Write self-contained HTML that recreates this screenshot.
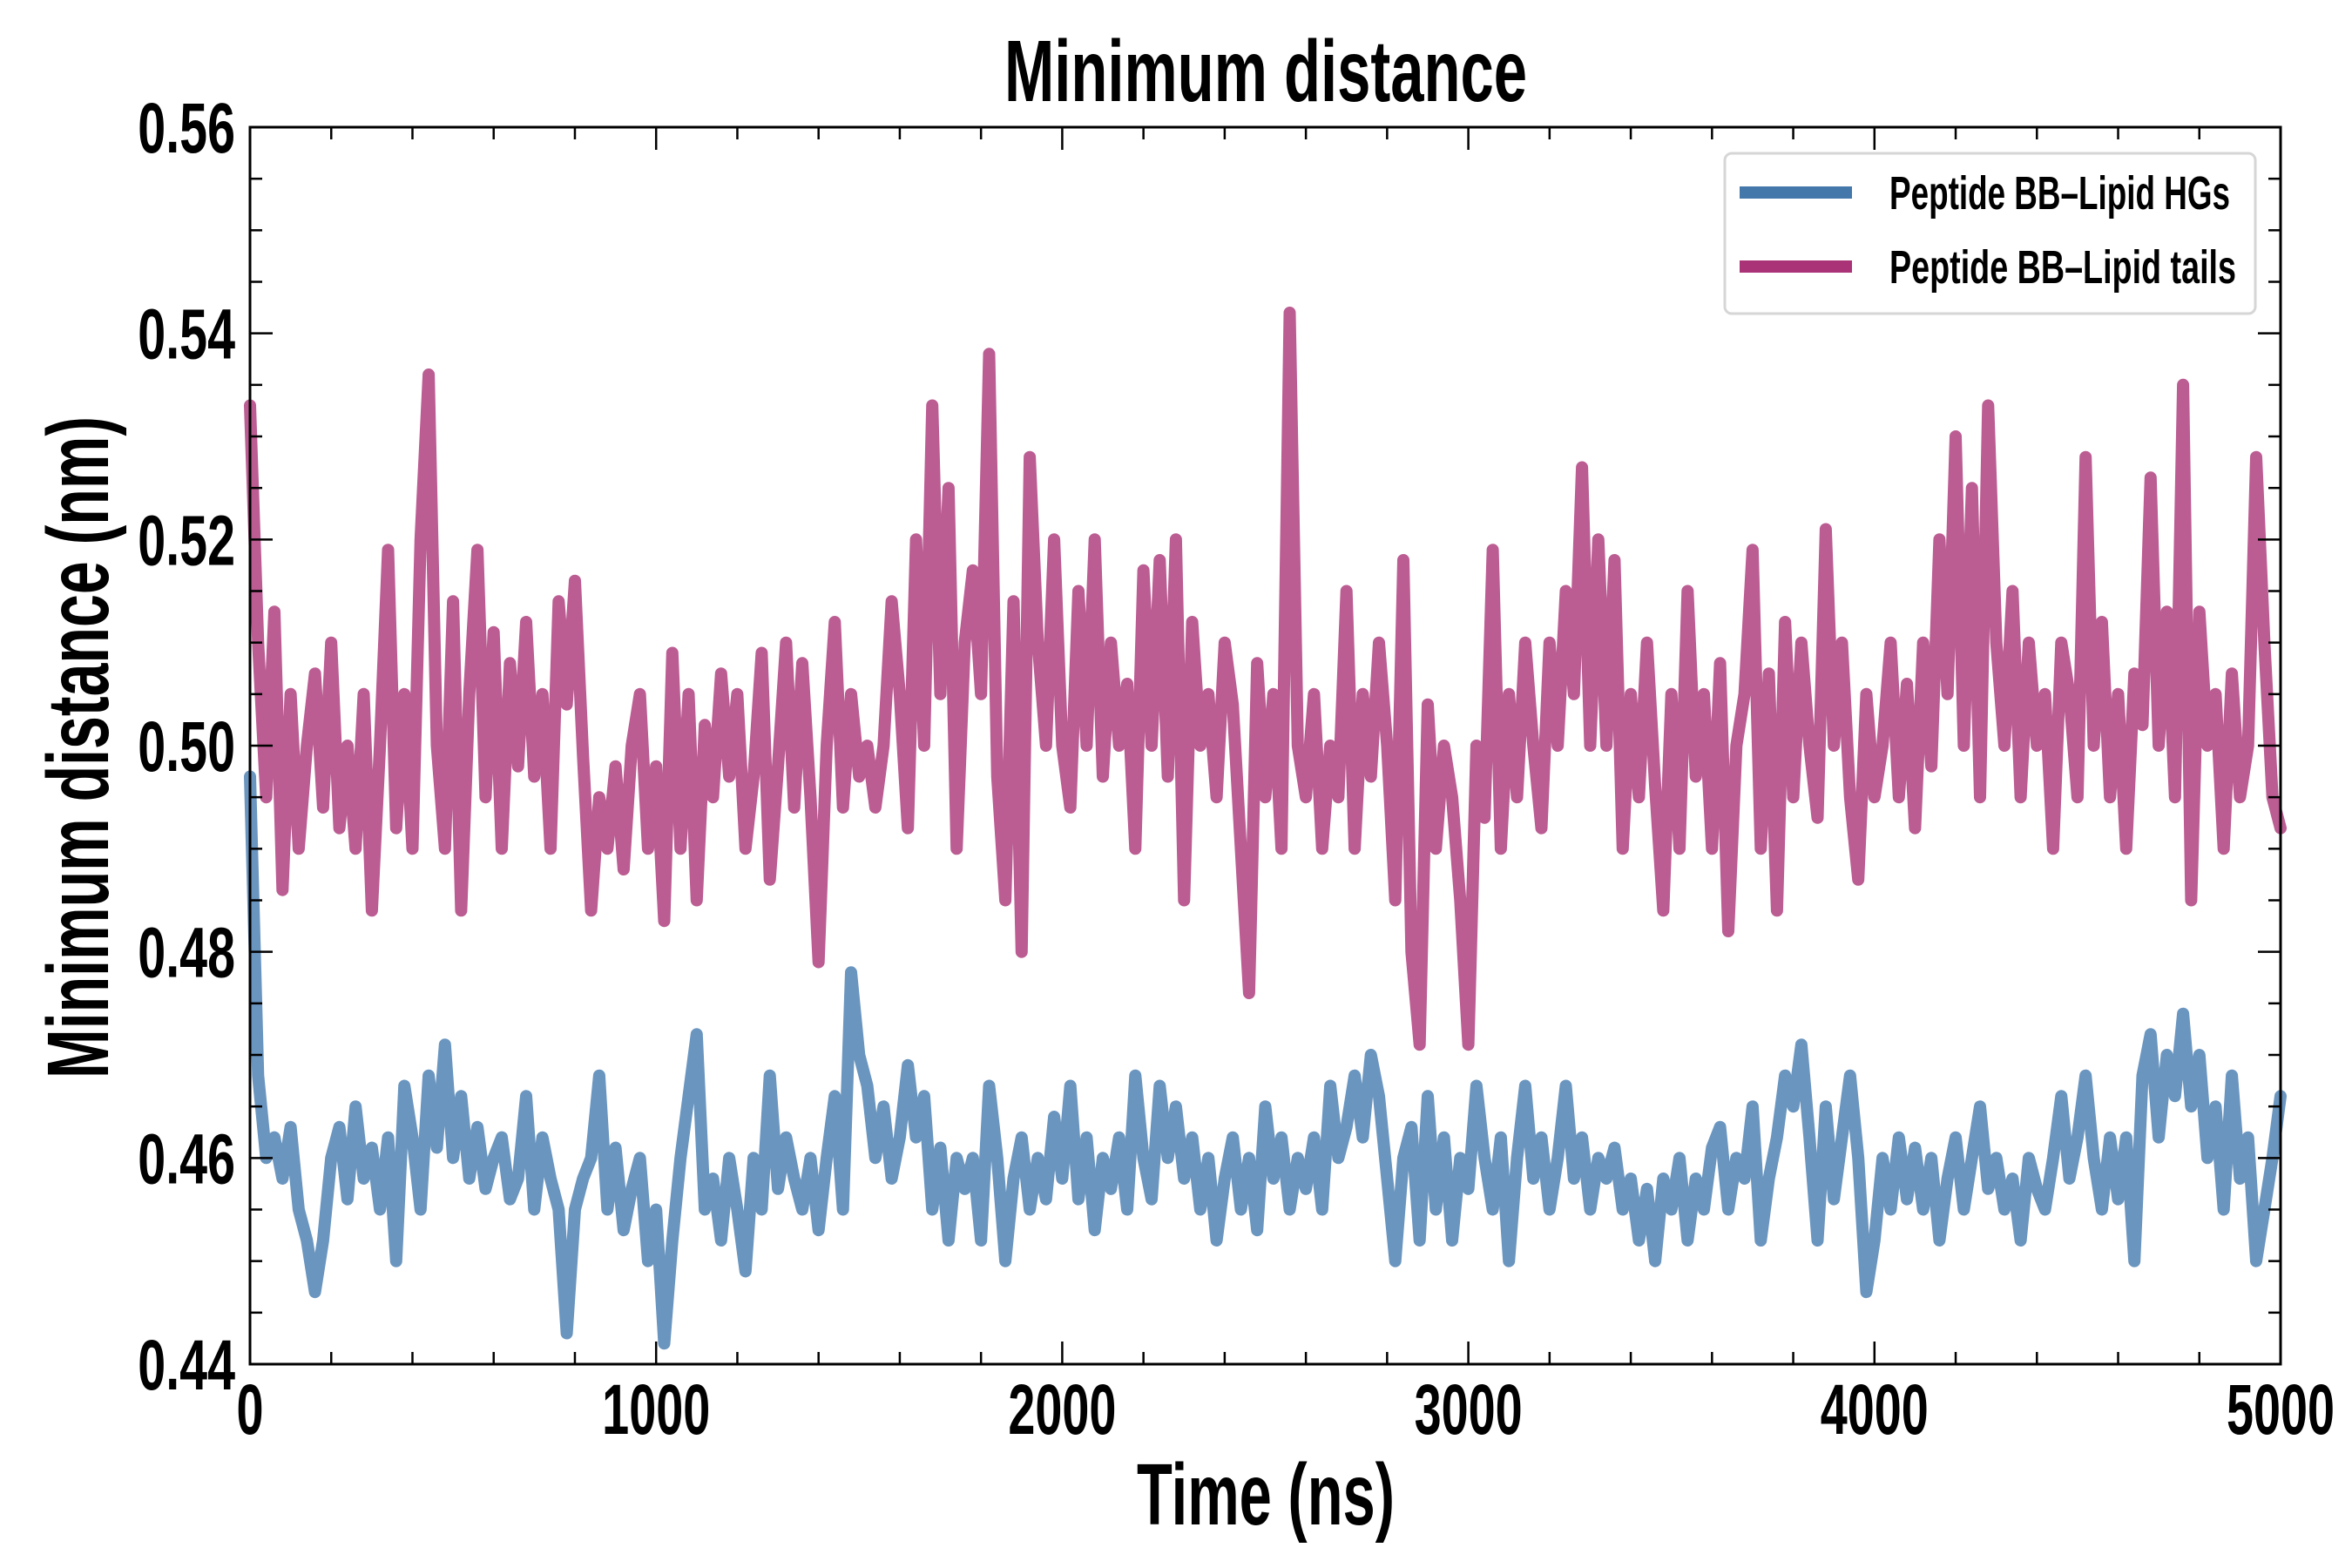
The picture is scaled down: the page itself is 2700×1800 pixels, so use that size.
<!DOCTYPE html>
<html><head><meta charset="utf-8"><style>
html,body{margin:0;padding:0;background:#fff;}
svg{display:block;}
text{font-family:"Liberation Sans Narrow","Liberation Sans",sans-serif;font-weight:bold;fill:#000;}
</style></head><body>
<svg id="chart" width="2700" height="1800" viewBox="0 0 2700 1800">
<text x="1453" y="116" font-size="100" text-anchor="middle" textLength="600" lengthAdjust="spacingAndGlyphs">Minimum distance</text>
<text x="1453" y="1750" font-size="100" text-anchor="middle" textLength="296" lengthAdjust="spacingAndGlyphs">Time (ns)</text>
<text transform="translate(124,858) rotate(-90)" font-size="100" text-anchor="middle" textLength="760" lengthAdjust="spacingAndGlyphs">Minimum distance (nm)</text>
<g id="series"></g>
<g id="axes"></g>
<g>
<rect x="1980" y="176" width="609" height="184" rx="8" fill="#fff" stroke="#d6d6d6" stroke-width="3"/>
<line x1="1997" y1="221" x2="2126" y2="221" stroke="#4477aa" stroke-width="14"/>
<text x="2169" y="240" font-size="54" textLength="391" lengthAdjust="spacingAndGlyphs">Peptide BB–Lipid HGs</text>
<line x1="1997" y1="306" x2="2126" y2="306" stroke="#aa3377" stroke-width="14"/>
<text x="2169" y="325" font-size="54" textLength="398" lengthAdjust="spacingAndGlyphs">Peptide BB–Lipid tails</text>
</g>
</svg>
<script>
const xTicks = [0,1000,2000,3000,4000,5000];
const yTicks = [0.44,0.46,0.48,0.50,0.52,0.54,0.56];
const yTickLabels = ["0.44","0.46","0.48","0.50","0.52","0.54","0.56"];
const tailsValues = [0.533,0.51,0.495,0.513,0.486,0.505,0.49,0.5,0.507,0.494,0.51,0.492,0.5,0.49,0.505,0.484,0.5,0.519,0.492,0.505,0.49,0.52,0.536,0.5,0.49,0.514,0.484,0.505,0.519,0.495,0.511,0.49,0.508,0.498,0.512,0.497,0.505,0.49,0.514,0.504,0.516,0.499,0.484,0.495,0.49,0.498,0.488,0.5,0.505,0.49,0.498,0.483,0.509,0.49,0.505,0.485,0.502,0.495,0.507,0.497,0.505,0.49,0.497,0.509,0.487,0.498,0.51,0.494,0.508,0.495,0.479,0.5,0.512,0.494,0.505,0.497,0.5,0.494,0.5,0.514,0.505,0.492,0.52,0.5,0.533,0.505,0.525,0.49,0.51,0.517,0.505,0.538,0.497,0.485,0.514,0.48,0.528,0.51,0.5,0.52,0.5,0.494,0.515,0.5,0.52,0.497,0.51,0.5,0.506,0.49,0.517,0.5,0.518,0.497,0.52,0.485,0.512,0.5,0.505,0.495,0.51,0.504,0.49,0.476,0.508,0.495,0.505,0.49,0.542,0.5,0.495,0.505,0.49,0.5,0.495,0.515,0.49,0.505,0.497,0.51,0.5,0.485,0.518,0.48,0.471,0.504,0.49,0.5,0.495,0.485,0.471,0.5,0.493,0.519,0.49,0.505,0.495,0.51,0.5,0.492,0.51,0.5,0.515,0.505,0.527,0.5,0.52,0.5,0.518,0.49,0.505,0.495,0.51,0.496,0.484,0.505,0.49,0.515,0.497,0.505,0.49,0.508,0.482,0.5,0.505,0.519,0.49,0.507,0.484,0.512,0.495,0.51,0.5,0.493,0.521,0.5,0.51,0.495,0.487,0.505,0.495,0.5,0.51,0.495,0.506,0.492,0.51,0.498,0.52,0.505,0.53,0.5,0.525,0.495,0.533,0.51,0.5,0.515,0.495,0.51,0.5,0.505,0.49,0.51,0.505,0.495,0.528,0.5,0.512,0.495,0.505,0.49,0.507,0.502,0.526,0.5,0.513,0.495,0.535,0.485,0.513,0.5,0.505,0.49,0.507,0.495,0.5,0.528,0.51,0.495,0.492];
const hgsValues = [0.497,0.468,0.46,0.462,0.458,0.463,0.455,0.452,0.447,0.452,0.46,0.463,0.456,0.465,0.458,0.461,0.455,0.462,0.45,0.467,0.462,0.455,0.468,0.461,0.471,0.46,0.466,0.458,0.463,0.457,0.46,0.462,0.456,0.458,0.466,0.455,0.462,0.458,0.455,0.443,0.455,0.458,0.46,0.468,0.455,0.461,0.453,0.457,0.46,0.45,0.455,0.442,0.452,0.46,0.466,0.472,0.455,0.458,0.452,0.46,0.455,0.449,0.46,0.455,0.468,0.457,0.462,0.458,0.455,0.46,0.453,0.46,0.466,0.455,0.478,0.47,0.467,0.46,0.465,0.458,0.462,0.469,0.462,0.466,0.455,0.461,0.452,0.46,0.457,0.46,0.452,0.467,0.46,0.45,0.458,0.462,0.455,0.46,0.456,0.464,0.458,0.467,0.456,0.462,0.453,0.46,0.457,0.462,0.455,0.468,0.46,0.456,0.467,0.46,0.465,0.458,0.462,0.455,0.46,0.452,0.458,0.462,0.455,0.46,0.453,0.465,0.458,0.462,0.455,0.46,0.457,0.462,0.455,0.467,0.46,0.463,0.468,0.462,0.47,0.466,0.458,0.45,0.46,0.463,0.452,0.466,0.455,0.462,0.452,0.46,0.457,0.467,0.46,0.455,0.462,0.45,0.46,0.467,0.458,0.462,0.455,0.46,0.467,0.458,0.462,0.455,0.46,0.458,0.461,0.455,0.458,0.452,0.457,0.45,0.458,0.455,0.46,0.452,0.458,0.455,0.461,0.463,0.455,0.46,0.458,0.465,0.452,0.458,0.462,0.468,0.465,0.471,0.462,0.452,0.465,0.456,0.462,0.468,0.46,0.447,0.452,0.46,0.455,0.462,0.456,0.461,0.455,0.46,0.452,0.458,0.462,0.455,0.46,0.465,0.457,0.46,0.455,0.458,0.452,0.46,0.457,0.455,0.46,0.466,0.458,0.462,0.468,0.46,0.455,0.462,0.456,0.462,0.45,0.468,0.472,0.462,0.47,0.466,0.474,0.465,0.47,0.46,0.465,0.455,0.468,0.458,0.462,0.45,0.455,0.46,0.466];

const L=287, R=2618, T=146, B=1566, XMAX=5000, YMIN=0.44, YMAX=0.56;
const sx = v => L + (v/XMAX)*(R-L);
const sy = v => B - (v-YMIN)/(YMAX-YMIN)*(B-T);
const NS="http://www.w3.org/2000/svg";
const mk = (tag, attrs) => { const e=document.createElementNS(NS,tag); for (const k in attrs) e.setAttribute(k, attrs[k]); return e; };

const seriesG = document.getElementById('series');
function drawSeries(vals, color, name){
  const step = XMAX/(vals.length-1);
  const d = vals.map((v,i)=>(i?'L':'M')+sx(i*step).toFixed(1)+' '+sy(v).toFixed(1)).join(' ');
  const p = mk('path',{d:d, fill:'none', stroke:color, 'stroke-width':14, 'stroke-linejoin':'round','stroke-linecap':'round'});
  
  
  seriesG.appendChild(p);
}
drawSeries(tailsValues, '#bb5c92', 'line-lipid-tails');
drawSeries(hgsValues, '#6a95bf', 'line-lipid-hgs');

const axes = document.getElementById('axes');
const frame = mk('rect',{x:L,y:T,width:R-L,height:B-T,fill:'none',stroke:'#000','stroke-width':3});


axes.appendChild(frame);
const MAJ=26, MIN=14;
for (let v=0; v<=XMAX; v+=200){
  const x=sx(v), len = (v%1000===0)?MAJ:MIN;
  axes.appendChild(mk('line',{x1:x,y1:B,x2:x,y2:B-len,stroke:'#000','stroke-width':2.5}));
  axes.appendChild(mk('line',{x1:x,y1:T,x2:x,y2:T+len,stroke:'#000','stroke-width':2.5}));
}
for (let k=0; k<=24; k++){
  const v=YMIN+k*0.005, y=sy(v), len=(k%4===0)?MAJ:MIN;
  axes.appendChild(mk('line',{x1:L,y1:y,x2:L+len,y2:y,stroke:'#000','stroke-width':2.5}));
  axes.appendChild(mk('line',{x1:R,y1:y,x2:R-len,y2:y,stroke:'#000','stroke-width':2.5}));
}
xTicks.forEach(v=>{
  const t=mk('text',{x:0,y:0,'font-size':82,'text-anchor':'middle',transform:'translate('+sx(v)+',1646) scale(0.68,1)'});
  t.textContent=String(v);
  
  
  axes.appendChild(t);
});
yTicks.forEach((v,i)=>{
  const t=mk('text',{x:0,y:0,'font-size':82,'text-anchor':'end',transform:'translate(270,'+(sy(v)+29)+') scale(0.7,1)'});
  t.textContent=yTickLabels[i];
  
  
  axes.appendChild(t);
});
</script>
</body></html>
